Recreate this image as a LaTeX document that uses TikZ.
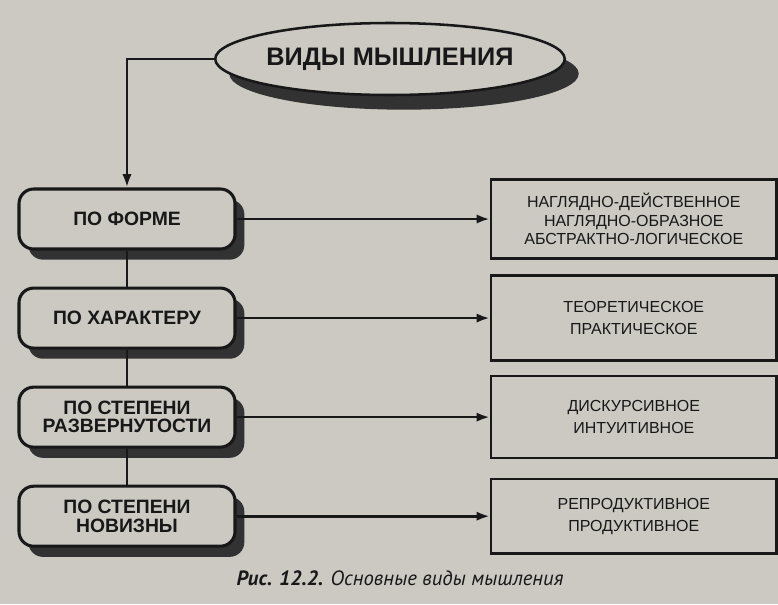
\documentclass[tikz,border=0pt]{standalone}
\usepackage{fontspec}
\setmainfont{Liberation Sans}
\newfontfamily\capfont{PT Sans}
\usetikzlibrary{shapes,arrows,arrows.meta,positioning,shadows}
\definecolor{paper}{RGB}{203,201,194}
\definecolor{ink}{RGB}{24,24,24}
\definecolor{shade}{RGB}{50,50,50}

\begin{document}
\begin{tikzpicture}[x=0.75pt, y=-0.75pt, node distance=27pt,
    title/.style={ellipse, draw=ink, line width=1.9pt, fill=paper, minimum width=237pt, minimum height=54pt, inner sep=0pt, text=ink, font=\bfseries\fontsize{19}{21}\selectfont, drop shadow={shadow xshift=10.5pt, shadow yshift=-11pt, fill=shade, opacity=1}},
    basis/.style={rectangle, rounded corners=11pt, draw=ink, line width=2.3pt, fill=paper, minimum width=162pt, minimum height=45pt, align=center, text=ink, font=\bfseries\fontsize{14.5}{13.8}\selectfont, drop shadow={shadow xshift=7pt, shadow yshift=-8pt, fill=shade, opacity=1}},
    kind/.style={rectangle, draw=ink, line width=1.9pt, minimum width=214pt, align=center, text=ink, font=\fontsize{12}{13.7}\selectfont},
    arrow/.style={-{Latex[length=10pt,width=7pt]}, line width=2pt, ink},
    link/.style={line width=2pt, ink}]

    \fill[paper] (0,0) rectangle (778,604);
    \useasboundingbox (0,0) rectangle (778,604);

    \node[title] (kinds) at (390,59) {ВИДЫ МЫШЛЕНИЯ};

    \node[basis] (form) at (127,219) {ПО ФОРМЕ};
    \node[basis, below=of form] (nature) {ПО ХАРАКТЕРУ};
    \node[basis, below=of nature] (scope) {ПО СТЕПЕНИ\\РАЗВЕРНУТОСТИ};
    \node[basis, below=of scope] (novelty) {ПО СТЕПЕНИ\\НОВИЗНЫ};

    \node[kind, minimum height=59pt, right=190pt of form] (forms) {НАГЛЯДНО-ДЕЙСТВЕННОЕ\\НАГЛЯДНО-ОБРАЗНОЕ\\АБСТРАКТНО-ЛОГИЧЕСКОЕ};
    \node[kind, minimum height=64pt, right=190pt of nature] (natures) {ТЕОРЕТИЧЕСКОЕ\\[2.8pt]ПРАКТИЧЕСКОЕ};
    \node[kind, minimum height=61.5pt, right=190pt of scope] (scopes) {ДИСКУРСИВНОЕ\\[2.8pt]ИНТУИТИВНОЕ};
    \node[kind, minimum height=56pt, right=190pt of novelty] (novelties) {РЕПРОДУКТИВНОЕ\\[2.8pt]ПРОДУКТИВНОЕ};

    \draw[arrow] (kinds.west) -| (form.north);
    \draw[link] (form) -- (nature);
    \draw[link] (nature) -- (scope);
    \draw[link] (scope) -- (novelty);

    \draw[arrow] (form) -- (forms);
    \draw[arrow] (nature) -- (natures);
    \draw[arrow] (scope) -- (scopes);
    \draw[arrow] (novelty) -- (novelties);

    \node[anchor=base, text=ink, font=\capfont\itshape\fontsize{15.5}{18}\selectfont] (caption) at (400,585) {\textbf{Рис. 12.2.} Основные виды мышления};
\end{tikzpicture}
\end{document}
